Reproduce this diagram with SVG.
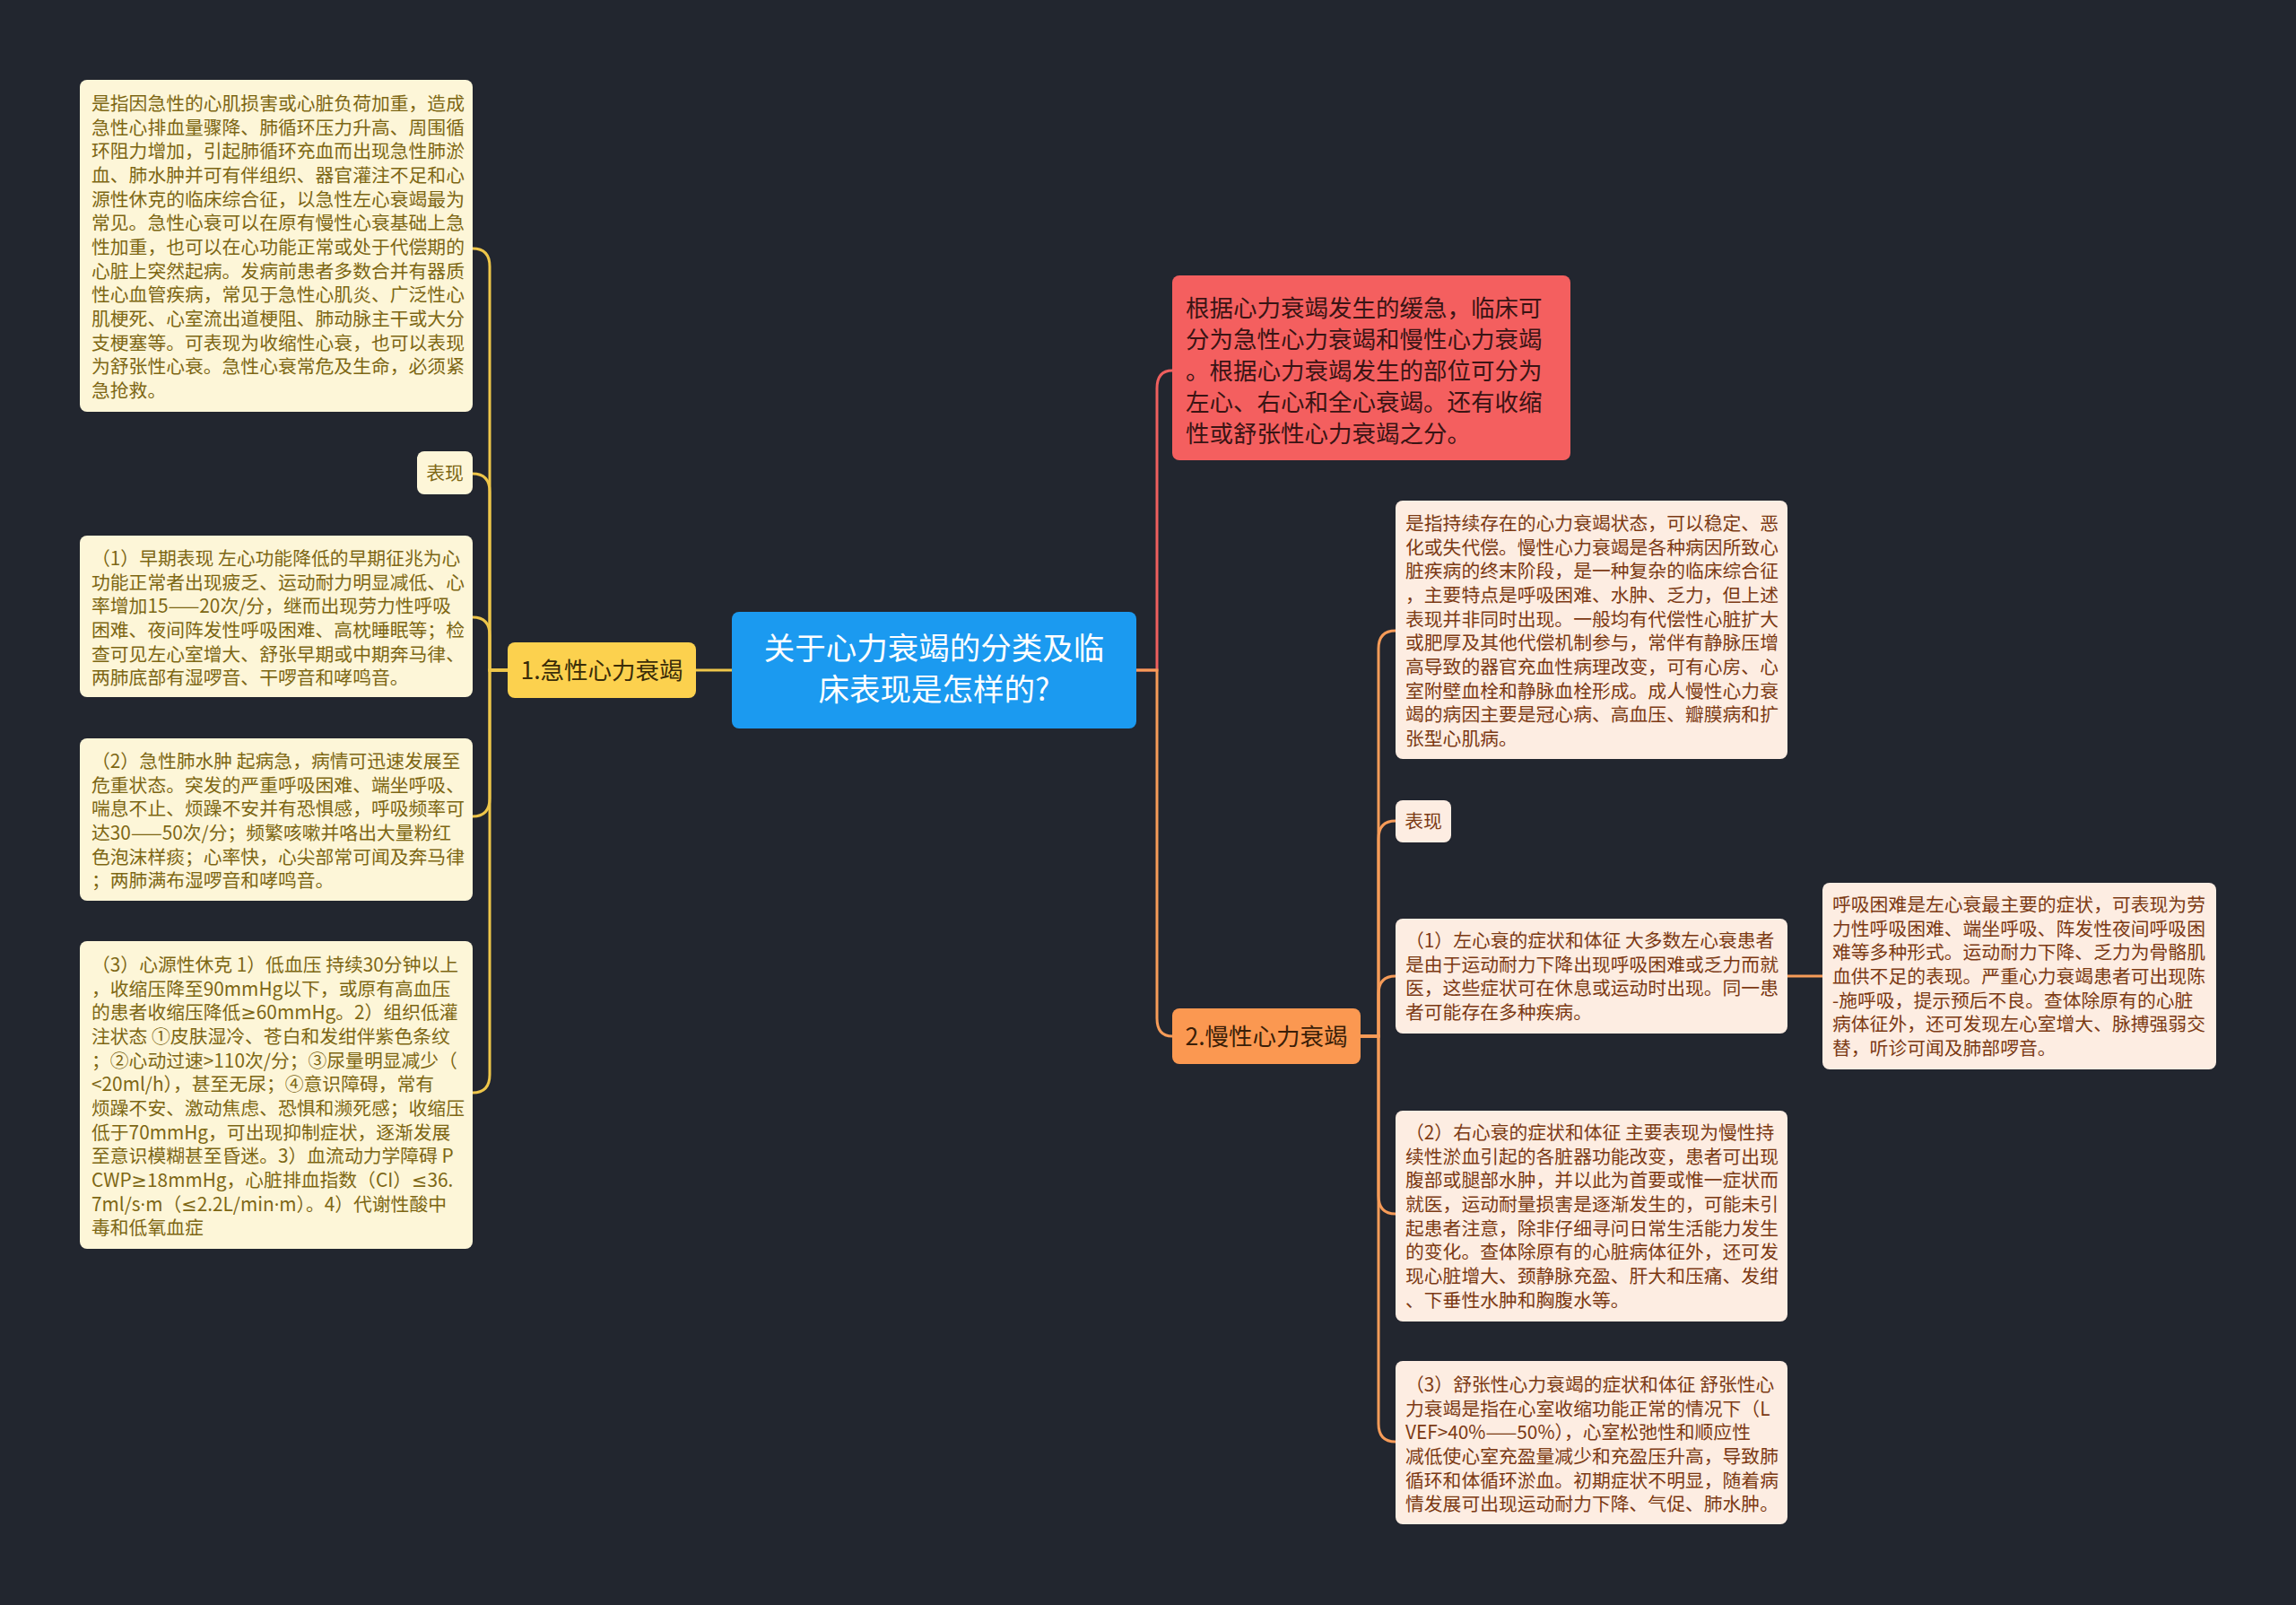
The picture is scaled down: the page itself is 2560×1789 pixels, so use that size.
<svg xmlns="http://www.w3.org/2000/svg" width="2560" height="1789" viewBox="0 0 2560 1789">
<style>
text{font-family:"Noto Sans CJK SC","Noto Sans",sans-serif}
.lat{font-family:"Noto Sans","DejaVu Sans",sans-serif}
.bg{fill:#22262f}
.lbox{fill:#fdf6d8}
.ltxt{fill:#7d6714;font-size:20.8px}
.rbox{fill:#fdede2}
.rtxt{fill:#7c3a14;font-size:20.8px}
.cy{fill:none;stroke:#eec64a;stroke-width:3}
.co{fill:none;stroke:#f69b58;stroke-width:3}
.cr{fill:none;stroke:#ef5f5e;stroke-width:3}
</style>
<rect class="bg" x="0" y="0" width="2560" height="1789"/>
<g id="connectors">
<path class="cy" d="M566,747 H546 V297 Q546,277 527,277"/>
<path class="cy" d="M566,747 H546 V548 Q546,528 527,528"/>
<path class="cy" d="M566,747 H546 V708 Q546,688 527,688"/>
<path class="cy" d="M566,747 H546 V890 Q546,910 527,910"/>
<path class="cy" d="M566,747 H546 V1198 Q546,1218 527,1218"/>
<path class="cy" d="M776,747 H816"/>
<path class="cr" d="M1267,747 H1290 V433 Q1290,413 1307,413"/>
<path class="co" d="M1267,747 H1290 V1135 Q1290,1155 1307,1155"/>
<path class="co" d="M1517,1155 H1537 V723 Q1537,703 1556,703"/>
<path class="co" d="M1517,1155 H1537 V935 Q1537,915 1556,915"/>
<path class="co" d="M1517,1155 H1537 V1108 Q1537,1088 1556,1088"/>
<path class="co" d="M1517,1155 H1537 V1333 Q1537,1353 1556,1353"/>
<path class="co" d="M1517,1155 H1537 V1587 Q1537,1607 1556,1607"/>
<path class="co" d="M1993,1088 H2032"/>
</g>
<g id="root">
<rect x="816" y="682" width="451" height="130" rx="8" fill="#1b9af0"/>
<text x="1041.5" font-size="34.5" fill="#ffffff" text-anchor="middle"><tspan x="1041.5" y="735">关于心力衰竭的分类及临</tspan><tspan x="1041.5" y="781">床表现是怎样的?</tspan></text>
</g>
<g id="acute">
<rect x="566" y="716" width="210" height="62" rx="8" fill="#fcd14e"/>
<text x="671" y="757" font-size="26.5" fill="#3a2c08" text-anchor="middle">1.急性心力衰竭</text>
</g>
<g id="acute-def">
<rect class="lbox" x="89" y="89" width="438" height="370" rx="8"/>
<text class="ltxt"><tspan x="102" y="123">是指因急性的心肌损害或心脏负荷加重，造成</tspan><tspan x="102" y="149.7">急性心排血量骤降、肺循环压力升高、周围循</tspan><tspan x="102" y="176.3">环阻力增加，引起肺循环充血而出现急性肺淤</tspan><tspan x="102" y="203">血、肺水肿并可有伴组织、器官灌注不足和心</tspan><tspan x="102" y="229.7">源性休克的临床综合征，以急性左心衰竭最为</tspan><tspan x="102" y="256.3">常见。急性心衰可以在原有慢性心衰基础上急</tspan><tspan x="102" y="283">性加重，也可以在心功能正常或处于代偿期的</tspan><tspan x="102" y="309.7">心脏上突然起病。发病前患者多数合并有器质</tspan><tspan x="102" y="336.3">性心血管疾病，常见于急性心肌炎、广泛性心</tspan><tspan x="102" y="363">肌梗死、心室流出道梗阻、肺动脉主干或大分</tspan><tspan x="102" y="389.7">支梗塞等。可表现为收缩性心衰，也可以表现</tspan><tspan x="102" y="416.3">为舒张性心衰。急性心衰常危及生命，必须紧</tspan><tspan x="102" y="443">急抢救。</tspan></text>
</g>
<g id="acute-bx">
<rect class="lbox" x="465" y="503" width="62" height="48" rx="8"/>
<text class="ltxt" x="496" y="535" text-anchor="middle">表现</text>
</g>
<g id="acute-1">
<rect class="lbox" x="89" y="597" width="438" height="180" rx="8"/>
<text class="ltxt"><tspan x="102" y="630">（1）早期表现 左心功能降低的早期征兆为心</tspan><tspan x="102" y="656.7">功能正常者出现疲乏、运动耐力明显减低、心</tspan><tspan x="102" y="683.3">率增加15——20次/分，继而出现劳力性呼吸</tspan><tspan x="102" y="710">困难、夜间阵发性呼吸困难、高枕睡眠等；检</tspan><tspan x="102" y="736.7">查可见左心室增大、舒张早期或中期奔马律、</tspan><tspan x="102" y="763.3">两肺底部有湿啰音、干啰音和哮鸣音。</tspan></text>
</g>
<g id="acute-2">
<rect class="lbox" x="89" y="823" width="438" height="181" rx="8"/>
<text class="ltxt"><tspan x="102" y="856">（2）急性肺水肿 起病急，病情可迅速发展至</tspan><tspan x="102" y="882.7">危重状态。突发的严重呼吸困难、端坐呼吸、</tspan><tspan x="102" y="909.3">喘息不止、烦躁不安并有恐惧感，呼吸频率可</tspan><tspan x="102" y="936">达30——50次/分；频繁咳嗽并咯出大量粉红</tspan><tspan x="102" y="962.7">色泡沫样痰；心率快，心尖部常可闻及奔马律</tspan><tspan x="102" y="989.3">；两肺满布湿啰音和哮鸣音。</tspan></text>
</g>
<g id="acute-3">
<rect class="lbox" x="89" y="1049" width="438" height="343" rx="8"/>
<text class="ltxt"><tspan x="102" y="1083">（3）心源性休克 1）低血压 持续30分钟以上</tspan><tspan x="102" y="1109.7">，收缩压降至90mmHg以下，或原有高血压</tspan><tspan x="102" y="1136.3">的患者收缩压降低<tspan class="lat">≥</tspan>60mmHg。2）组织低灌</tspan><tspan x="102" y="1163">注状态 ①皮肤湿冷、苍白和发绀伴紫色条纹</tspan><tspan x="102" y="1189.7">；②心动过速&gt;110次/分；③尿量明显减少（</tspan><tspan x="102" y="1216.3">&lt;20ml/h），甚至无尿；④意识障碍，常有</tspan><tspan x="102" y="1243">烦躁不安、激动焦虑、恐惧和濒死感；收缩压</tspan><tspan x="102" y="1269.7">低于70mmHg，可出现抑制症状，逐渐发展</tspan><tspan x="102" y="1296.3">至意识模糊甚至昏迷。3）血流动力学障碍 P</tspan><tspan x="102" y="1323">CWP<tspan class="lat">≥</tspan>18mmHg，心脏排血指数（CI）<tspan class="lat">≤</tspan>36.</tspan><tspan x="102" y="1349.7">7ml/s<tspan class="lat">·</tspan>m（<tspan class="lat">≤</tspan>2.2L/min<tspan class="lat">·</tspan>m）。4）代谢性酸中</tspan><tspan x="102" y="1376.3">毒和低氧血症</tspan></text>
</g>
<g id="classify">
<rect x="1307" y="307" width="444" height="206" rx="8" fill="#f45f5f"/>
<text font-size="26.5" fill="#3a1414"><tspan x="1322" y="353">根据心力衰竭发生的缓急，临床可</tspan><tspan x="1322" y="388">分为急性心力衰竭和慢性心力衰竭</tspan><tspan x="1322" y="423">。根据心力衰竭发生的部位可分为</tspan><tspan x="1322" y="458">左心、右心和全心衰竭。还有收缩</tspan><tspan x="1322" y="493">性或舒张性心力衰竭之分。</tspan></text>
</g>
<g id="chronic">
<rect x="1307" y="1124" width="210" height="62" rx="8" fill="#fb9851"/>
<text x="1412" y="1165" font-size="26.5" fill="#3a1e08" text-anchor="middle">2.慢性心力衰竭</text>
</g>
<g id="chronic-def">
<rect class="rbox" x="1556" y="558" width="437" height="288" rx="8"/>
<text class="rtxt"><tspan x="1567" y="591">是指持续存在的心力衰竭状态，可以稳定、恶</tspan><tspan x="1567" y="617.7">化或失代偿。慢性心力衰竭是各种病因所致心</tspan><tspan x="1567" y="644.3">脏疾病的终末阶段，是一种复杂的临床综合征</tspan><tspan x="1567" y="671">，主要特点是呼吸困难、水肿、乏力，但上述</tspan><tspan x="1567" y="697.7">表现并非同时出现。一般均有代偿性心脏扩大</tspan><tspan x="1567" y="724.3">或肥厚及其他代偿机制参与，常伴有静脉压增</tspan><tspan x="1567" y="751">高导致的器官充血性病理改变，可有心房、心</tspan><tspan x="1567" y="777.7">室附壁血栓和静脉血栓形成。成人慢性心力衰</tspan><tspan x="1567" y="804.3">竭的病因主要是冠心病、高血压、瓣膜病和扩</tspan><tspan x="1567" y="831">张型心肌病。</tspan></text>
</g>
<g id="chronic-bx">
<rect class="rbox" x="1556" y="892" width="62" height="47" rx="8"/>
<text class="rtxt" x="1587" y="923" text-anchor="middle">表现</text>
</g>
<g id="chronic-1">
<rect class="rbox" x="1556" y="1024" width="437" height="128" rx="8"/>
<text class="rtxt"><tspan x="1567" y="1056">（1）左心衰的症状和体征 大多数左心衰患者</tspan><tspan x="1567" y="1082.7">是由于运动耐力下降出现呼吸困难或乏力而就</tspan><tspan x="1567" y="1109.3">医，这些症状可在休息或运动时出现。同一患</tspan><tspan x="1567" y="1136">者可能存在多种疾病。</tspan></text>
</g>
<g id="chronic-1a">
<rect class="rbox" x="2032" y="984" width="439" height="208" rx="8"/>
<text class="rtxt"><tspan x="2043" y="1016">呼吸困难是左心衰最主要的症状，可表现为劳</tspan><tspan x="2043" y="1042.7">力性呼吸困难、端坐呼吸、阵发性夜间呼吸困</tspan><tspan x="2043" y="1069.3">难等多种形式。运动耐力下降、乏力为骨骼肌</tspan><tspan x="2043" y="1096">血供不足的表现。严重心力衰竭患者可出现陈</tspan><tspan x="2043" y="1122.7">-施呼吸，提示预后不良。查体除原有的心脏</tspan><tspan x="2043" y="1149.3">病体征外，还可发现左心室增大、脉搏强弱交</tspan><tspan x="2043" y="1176">替，听诊可闻及肺部啰音。</tspan></text>
</g>
<g id="chronic-2">
<rect class="rbox" x="1556" y="1238" width="437" height="235" rx="8"/>
<text class="rtxt"><tspan x="1567" y="1270">（2）右心衰的症状和体征 主要表现为慢性持</tspan><tspan x="1567" y="1296.7">续性淤血引起的各脏器功能改变，患者可出现</tspan><tspan x="1567" y="1323.3">腹部或腿部水肿，并以此为首要或惟一症状而</tspan><tspan x="1567" y="1350">就医，运动耐量损害是逐渐发生的，可能未引</tspan><tspan x="1567" y="1376.7">起患者注意，除非仔细寻问日常生活能力发生</tspan><tspan x="1567" y="1403.3">的变化。查体除原有的心脏病体征外，还可发</tspan><tspan x="1567" y="1430">现心脏增大、颈静脉充盈、肝大和压痛、发绀</tspan><tspan x="1567" y="1456.7">、下垂性水肿和胸腹水等。</tspan></text>
</g>
<g id="chronic-3">
<rect class="rbox" x="1556" y="1517" width="437" height="182" rx="8"/>
<text class="rtxt"><tspan x="1567" y="1551">（3）舒张性心力衰竭的症状和体征 舒张性心</tspan><tspan x="1567" y="1577.7">力衰竭是指在心室收缩功能正常的情况下（L</tspan><tspan x="1567" y="1604.3">VEF&gt;40%——50%），心室松弛性和顺应性</tspan><tspan x="1567" y="1631">减低使心室充盈量减少和充盈压升高，导致肺</tspan><tspan x="1567" y="1657.7">循环和体循环淤血。初期症状不明显，随着病</tspan><tspan x="1567" y="1684.3">情发展可出现运动耐力下降、气促、肺水肿。</tspan></text>
</g>
</svg>
